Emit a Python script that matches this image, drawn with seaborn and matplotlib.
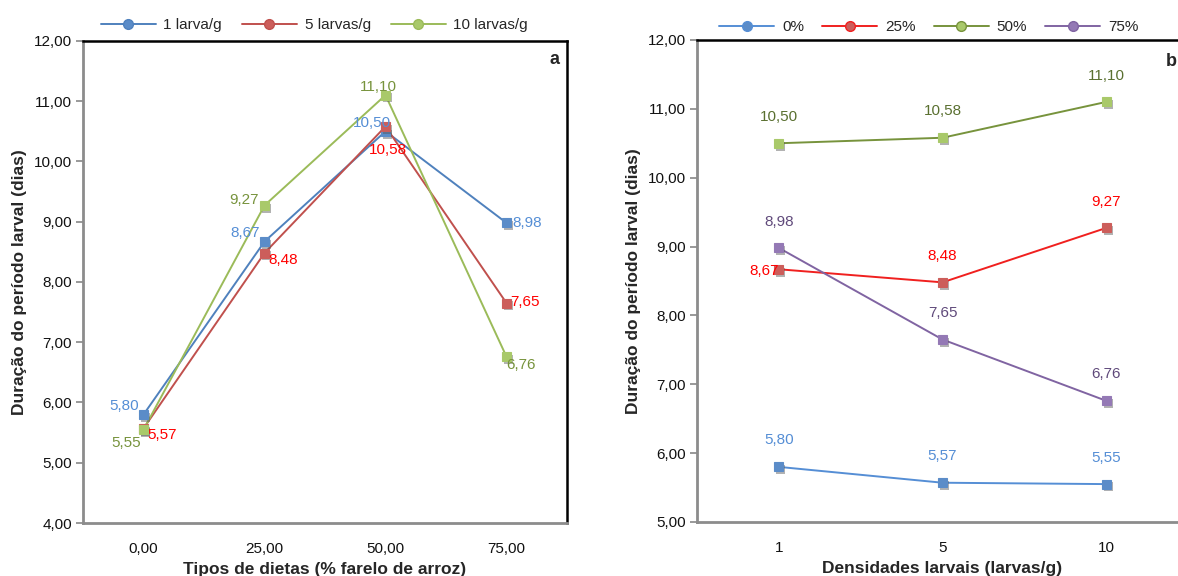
import matplotlib
matplotlib.use("Agg")
import matplotlib.pyplot as plt
import matplotlib.patheffects as pe
from matplotlib.lines import Line2D
from matplotlib.ticker import FuncFormatter, FixedLocator
import numpy as np
import pandas as pd
import seaborn as sns

sns.set_theme(style="white")
plt.rcParams["font.family"] = ["Liberation Sans", "DejaVu Sans"]

# ---- Panel a: diet types (% rice bran) ----
diet_labels = ["0,00", "25,00", "50,00", "75,00"]
dens_series = ["1 larva/g", "5 larvas/g", "10 larvas/g"]
dur_1 = [5.80, 8.67, 10.50, 8.98]
dur_5 = [5.57, 8.48, 10.58, 7.65]
dur_10 = [5.55, 9.27, 11.10, 6.76]

# ---- Panel b: larval densities ----
dens_labels = ["1", "5", "10"]
diet_series = ["0%", "25%", "50%", "75%"]
dur_0 = [5.80, 5.57, 5.55]
dur_25 = [8.67, 8.48, 9.27]
dur_50 = [10.50, 10.58, 11.10]
dur_75 = [8.98, 7.65, 6.76]

df_a = pd.DataFrame({
    "x": diet_labels * 3,
    "y": dur_1 + dur_5 + dur_10,
    "s": np.repeat(dens_series, len(diet_labels)),
})
df_b = pd.DataFrame({
    "x": dens_labels * 4,
    "y": dur_0 + dur_25 + dur_50 + dur_75,
    "s": np.repeat(diet_series, len(dens_labels)),
})

line_a = {"1 larva/g": "#4F81BD", "5 larvas/g": "#C0504D", "10 larvas/g": "#9BBB59"}
mark_a = {"1 larva/g": "#5B8CC8", "5 larvas/g": "#CC5E5B", "10 larvas/g": "#A9C96A"}
text_a = {"1 larva/g": "#558ED5", "5 larvas/g": "#FF0000", "10 larvas/g": "#77933C"}

line_b = {"0%": "#558ED5", "25%": "#F0201F", "50%": "#77933C", "75%": "#8064A2"}
mark_b = {"0%": "#5B8CC8", "25%": "#CC5E5B", "50%": "#A9C96A", "75%": "#9479B5"}
text_b = {"0%": "#558ED5", "25%": "#FF0000", "50%": "#5A7030", "75%": "#604A7B"}

shadow = [pe.SimplePatchShadow(offset=(1.5, -2.0), shadow_rgbFace="#555555", alpha=0.45), pe.Normal()]
comma = FuncFormatter(lambda v, p: f"{v:.2f}".replace(".", ","))

fig = plt.figure(figsize=(11.78, 5.76), dpi=100)
ax_a = fig.add_axes([0.0705, 0.092, 0.4108, 0.837])
ax_b = fig.add_axes([0.5917, 0.0938, 0.4168, 0.8368])


def draw(ax, df, order, hue_order, lcol, mcol):
    sns.pointplot(data=df, x="x", y="y", hue="s", order=order, hue_order=hue_order,
                  palette=lcol, markers="", linestyles="-", errorbar=None,
                  linewidth=1.4, legend=False, ax=ax)
    sns.pointplot(data=df, x="x", y="y", hue="s", order=order, hue_order=hue_order,
                  palette=mcol, markers="s", linestyles="none", errorbar=None,
                  markersize=6.5, markeredgewidth=0.8, legend=False, ax=ax,
                  path_effects=shadow)


def style(ax, order, ylim, xlabel):
    ax.set_ylim(*ylim)
    ax.set_xlim(-0.5, len(order) - 0.5)
    ax.yaxis.set_major_locator(FixedLocator(np.arange(ylim[0], ylim[1] + 0.01, 1)))
    ax.yaxis.set_major_formatter(comma)
    ax.set_xticks(range(len(order)))
    ax.set_xticklabels(order)
    ax.set_xticks(np.arange(-0.5, len(order)), minor=True)
    ax.tick_params(axis="x", which="major", length=0, labelsize=11, pad=14, colors="#111111")
    ax.tick_params(axis="x", which="minor", length=5, width=1.2, color="#888888", direction="out")
    ax.tick_params(axis="y", length=5, width=1.2, direction="out",
                   labelsize=11, pad=3, left=True, colors="#888888", labelcolor="#111111")
    for side in ("left", "bottom"):
        ax.spines[side].set_color("#8C8C8C")
        ax.spines[side].set_linewidth(2.0)
    for side in ("top", "right"):
        ax.spines[side].set_color("#000000")
        ax.spines[side].set_linewidth(1.8)
    ax.set_xlabel(xlabel, fontsize=12.5, fontweight="bold", labelpad=4)
    ax.set_ylabel("Duração do período larval (dias)", fontsize=12.5, fontweight="bold", labelpad=5)


def legend(ax, names, lcol, mcol, anchor, spacing):
    handles = [Line2D([], [], color=lcol[n], lw=1.4, marker="o", markersize=7,
                      markerfacecolor=mcol[n], markeredgecolor=lcol[n]) for n in names]
    ax.legend(handles, names, loc="lower center", bbox_to_anchor=anchor, ncol=len(names),
              frameon=False, fontsize=11, handlelength=3.6, columnspacing=spacing,
              handletextpad=0.5, borderaxespad=0)


# ---- Panel a ----
draw(ax_a, df_a, diet_labels, dens_series, line_a, mark_a)
style(ax_a, diet_labels, (4, 12), "Tipos de dietas (% farelo de arroz)")
legend(ax_a, dens_series, line_a, mark_a, (0.478, 1.005), 1.3)
ax_a.text(0.985, 0.98, "a", transform=ax_a.transAxes, ha="right", va="top",
          fontsize=13, fontweight="bold")

offs_a = {
    "1 larva/g": [(-3, 6, "right"), (-3, 6, "right"), (4, 6, "right"), (4, 0, "left")],
    "5 larvas/g": [(3, -5, "left"), (3, -5, "left"), (2, -17, "center"), (3, 1, "left")],
    "10 larvas/g": [(-2, -10, "right"), (-4, 4, "right"), (-5, 6, "center"), (0, -6, "left")],
}
for s, vals in zip(dens_series, [dur_1, dur_5, dur_10]):
    for i, v in enumerate(vals):
        dx, dy, ha = offs_a[s][i]
        ax_a.annotate(f"{v:.2f}".replace(".", ","), (i, v), xytext=(dx, dy),
                      textcoords="offset points", ha=ha, va="center",
                      fontsize=11, color=text_a[s])

# ---- Panel b ----
draw(ax_b, df_b, dens_labels, diet_series, line_b, mark_b)
style(ax_b, dens_labels, (5, 12), "Densidades larvais (larvas/g)")
ax_b.spines["right"].set_visible(False)
legend(ax_b, diet_series, line_b, mark_b, (0.472, 1.0), 1.2)
fig.text(0.9992, 1 - 62 / 576, "b", ha="right", va="center", fontsize=13, fontweight="bold")

for s, vals in zip(diet_series, [dur_0, dur_25, dur_50, dur_75]):
    for i, v in enumerate(vals):
        dx, dy, ha = (0, 19, "center")
        if s == "25%" and i == 0:
            dx, dy, ha = (0, -1, "right")
        ax_b.annotate(f"{v:.2f}".replace(".", ","), (i, v), xytext=(dx, dy),
                      textcoords="offset points", ha=ha, va="center",
                      fontsize=11, color=text_b[s])

fig.savefig("out.png", dpi=100)
